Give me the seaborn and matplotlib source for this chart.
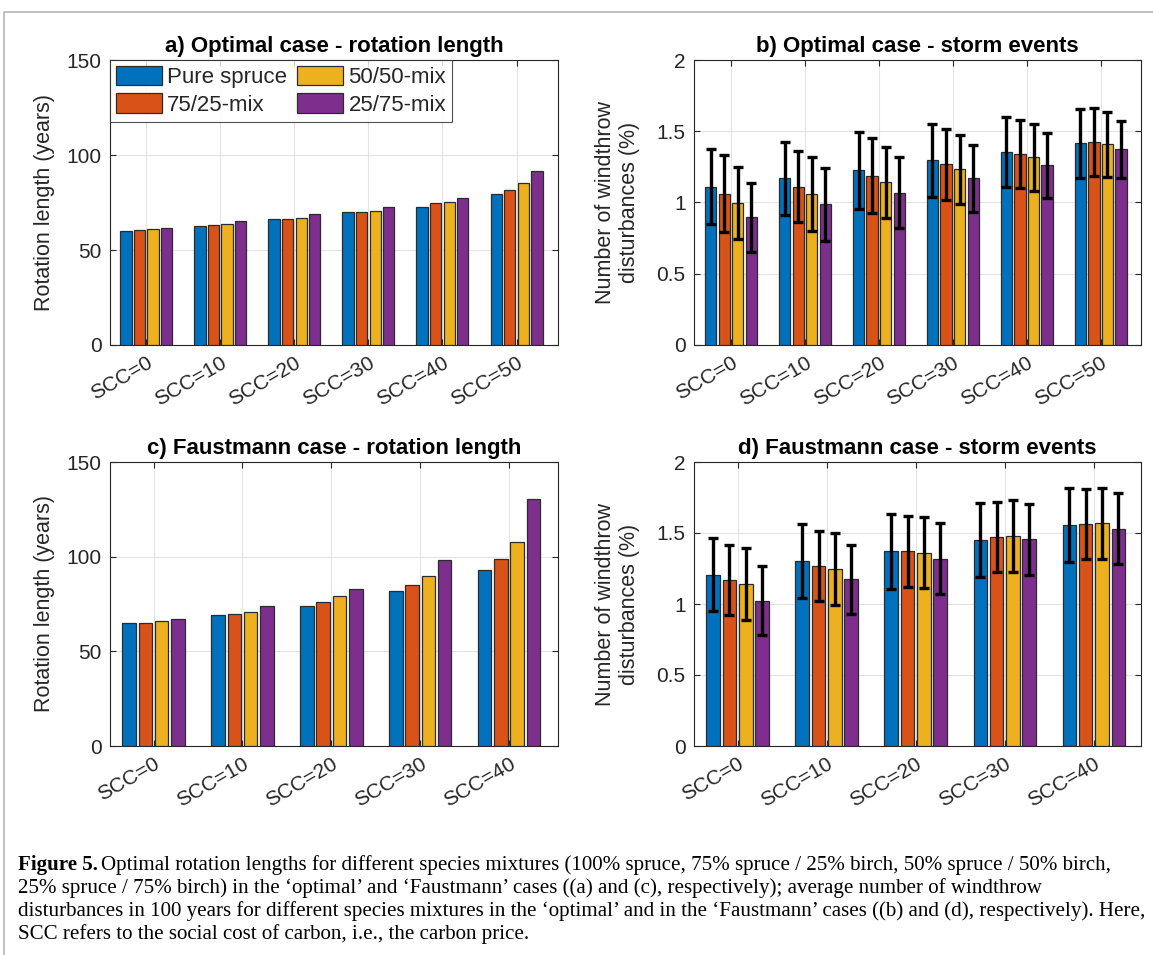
import numpy as np
import pandas as pd
import matplotlib
matplotlib.use("Agg")
import matplotlib.pyplot as plt
from matplotlib.lines import Line2D
import seaborn as sns

# ---- data -------------------------------------------------------------
mixtures = ["Pure spruce", "75/25-mix", "50/50-mix", "25/75-mix"]
colors = ["#0072BD", "#D95319", "#EDB120", "#7E2F8E"]

scc_opt = ["SCC=0", "SCC=10", "SCC=20", "SCC=30", "SCC=40", "SCC=50"]
scc_faust = ["SCC=0", "SCC=10", "SCC=20", "SCC=30", "SCC=40"]

# a) optimal case, rotation length (years)
rot_opt_pure = [59.8, 62.6, 66.1, 69.8, 72.8, 79.4]
rot_opt_7525 = [60.3, 63.1, 66.5, 69.8, 74.6, 81.5]
rot_opt_5050 = [61.2, 63.7, 66.8, 70.7, 75.0, 85.2]
rot_opt_2575 = [61.7, 65.4, 68.8, 72.8, 77.4, 91.5]

# b) optimal case, windthrow disturbances (%), mean and error half-width
dist_opt_pure = [1.110, 1.170, 1.225, 1.295, 1.357, 1.415]
dist_opt_7525 = [1.063, 1.110, 1.188, 1.268, 1.340, 1.423]
dist_opt_5050 = [0.996, 1.062, 1.142, 1.232, 1.318, 1.408]
dist_opt_2575 = [0.895, 0.986, 1.070, 1.169, 1.261, 1.375]
err_opt_pure = [0.264, 0.257, 0.268, 0.258, 0.245, 0.242]
err_opt_7525 = [0.268, 0.249, 0.262, 0.247, 0.240, 0.239]
err_opt_5050 = [0.252, 0.259, 0.250, 0.245, 0.236, 0.228]
err_opt_2575 = [0.244, 0.255, 0.248, 0.238, 0.227, 0.200]

# c) Faustmann case, rotation length (years)
rot_fau_pure = [65.0, 69.2, 74.2, 81.9, 93.0]
rot_fau_7525 = [65.0, 69.9, 76.1, 85.1, 99.0]
rot_fau_5050 = [66.0, 71.0, 79.1, 90.0, 108.0]
rot_fau_2575 = [67.1, 74.2, 83.0, 98.3, 130.5]

# d) Faustmann case, windthrow disturbances (%)
dist_fau_pure = [1.206, 1.303, 1.371, 1.451, 1.556]
dist_fau_7525 = [1.169, 1.268, 1.373, 1.472, 1.563]
dist_fau_5050 = [1.141, 1.246, 1.361, 1.479, 1.568]
dist_fau_2575 = [1.023, 1.173, 1.317, 1.455, 1.530]
err_fau_pure = [0.258, 0.263, 0.263, 0.262, 0.260]
err_fau_7525 = [0.249, 0.248, 0.250, 0.248, 0.247]
err_fau_5050 = [0.255, 0.252, 0.250, 0.255, 0.250]
err_fau_2575 = [0.244, 0.244, 0.250, 0.249, 0.250]

titles = ["a) Optimal case - rotation length", "b) Optimal case - storm events",
          "c) Faustmann case - rotation length", "d) Faustmann case - storm events"]

caption_lines = [
    "Optimal rotation lengths for different species mixtures (100% spruce, 75% spruce / 25% birch, 50% spruce / 50% birch,",
    "25% spruce / 75% birch) in the \u2018optimal\u2019 and \u2018Faustmann\u2019 cases ((a) and (c), respectively); average number of windthrow",
    "disturbances in 100 years for different species mixtures in the \u2018optimal\u2019 and in the \u2018Faustmann\u2019 cases ((b) and (d), respectively). Here,",
    "SCC refers to the social cost of carbon, i.e., the carbon price.",
]

# ---- style ------------------------------------------------------------
sns.set_style("ticks")
plt.rcParams["font.family"] = ["Liberation Sans", "DejaVu Sans"]
INK = "#262626"
plt.rcParams.update({
    "axes.edgecolor": INK,
    "axes.linewidth": 0.8,
    "text.color": INK,
    "axes.labelcolor": INK,
    "xtick.color": INK,
    "ytick.color": INK,
})


def long_form(cats, series):
    rows = []
    for name, vals in zip(mixtures, series):
        for c, v in zip(cats, vals):
            rows.append({"SCC": c, "Mixture": name, "value": v})
    return pd.DataFrame(rows)


def draw_panel(ax, cats, series, errs, ylim, yticks, yticklabels, xlim, title,
               ylabel, labelpad):
    df = long_form(cats, series)
    sns.barplot(data=df, x="SCC", y="value", hue="Mixture", hue_order=mixtures,
                order=cats, palette=colors, saturation=1, width=0.733, gap=0.17,
                errorbar=None, edgecolor="#2b2b2b", linewidth=0.9, legend=False,
                ax=ax, zorder=3)
    if errs is not None:
        for cont, means, e in zip(ax.containers, series, errs):
            xs = [p.get_x() + p.get_width() / 2 for p in cont]
            ax.errorbar(xs, means, yerr=e, fmt="none", ecolor="black",
                        elinewidth=2.4, capsize=3.9, capthick=2.4, zorder=4)
    ax.set_ylim(*ylim)
    ax.set_yticks(yticks)
    ax.set_yticklabels(yticklabels)
    ax.set_xlim(*xlim)
    ax.grid(True, color="#e3e3e3", linewidth=0.8, zorder=0)
    ax.set_axisbelow(True)
    for s in ax.spines.values():
        s.set_visible(True)
        s.set_color(INK)
        s.set_linewidth(0.8)
    ax.tick_params(direction="in", top=True, right=True, length=4, width=0.8,
                   labelsize=15, pad=6)
    ax.set_xticks(range(len(cats)))
    ax.set_xticklabels(cats, rotation=30, ha="right", rotation_mode="anchor")
    ax.set_xlabel("")
    ax.set_ylabel(ylabel, fontsize=15.5, labelpad=labelpad)
    ax.set_title(title, fontsize=16, fontweight="bold", color="black", pad=6)


fig = plt.figure(figsize=(11.53, 9.55), dpi=100)
W, H = 1153.0, 955.0
ax_a = fig.add_axes([110 / W, 1 - 345 / H, 448 / W, 285 / H])
ax_b = fig.add_axes([694 / W, 1 - 345 / H, 447 / W, 285 / H])
ax_c = fig.add_axes([110 / W, 1 - 746 / H, 448 / W, 284 / H])
ax_d = fig.add_axes([694 / W, 1 - 746 / H, 447 / W, 284 / H])

rot_ticks = [0, 50, 100, 150]
rot_labels = ["0", "50", "100", "150"]
dist_ticks = [0, 0.5, 1, 1.5, 2]
dist_labels = ["0", "0.5", "1", "1.5", "2"]

draw_panel(ax_a, scc_opt, [rot_opt_pure, rot_opt_7525, rot_opt_5050, rot_opt_2575], None,
           (0, 150), rot_ticks, rot_labels, (-0.49, 5.56), titles[0],
           "Rotation length (years)", 8)
draw_panel(ax_b, scc_opt, [dist_opt_pure, dist_opt_7525, dist_opt_5050, dist_opt_2575],
           [err_opt_pure, err_opt_7525, err_opt_5050, err_opt_2575],
           (0, 2), dist_ticks, dist_labels, (-0.50, 5.545), titles[1],
           "Number of windthrow\ndisturbances (%)", 12)
draw_panel(ax_c, scc_faust, [rot_fau_pure, rot_fau_7525, rot_fau_5050, rot_fau_2575], None,
           (0, 150), rot_ticks, rot_labels, (-0.49, 4.55), titles[2],
           "Rotation length (years)", 8)
draw_panel(ax_d, scc_faust, [dist_fau_pure, dist_fau_7525, dist_fau_5050, dist_fau_2575],
           [err_fau_pure, err_fau_7525, err_fau_5050, err_fau_2575],
           (0, 2), dist_ticks, dist_labels, (-0.49, 4.53), titles[3],
           "Number of windthrow\ndisturbances (%)", 12)

# legend built from the bars of panel a
handles = [cont.patches[0] for cont in ax_a.containers]
leg = ax_a.legend(handles, mixtures, ncol=2, loc="upper left", bbox_to_anchor=(0, 1),
                  borderaxespad=0, frameon=True, fancybox=False, fontsize=16,
                  handlelength=2.05, handleheight=0.95, columnspacing=0.45,
                  handletextpad=0.25, borderpad=0.28, labelspacing=0.22)
leg.get_frame().set_edgecolor(INK)
leg.get_frame().set_linewidth(0.8)
leg.set_zorder(10)

# page frame
fig.add_artist(Line2D([4 / W, 4 / W, 1.0], [0.0, 1 - 12 / H, 1 - 12 / H],
                      transform=fig.transFigure, color="#b5b5b5", lw=1.2))

# caption
serif = ["Liberation Serif", "DejaVu Serif"]
cap_size = 15.1
line_y = [865, 888, 911, 934]
head = fig.text(18 / W, 1 - line_y[0] / H, "Figure 5.", fontsize=cap_size,
                fontweight="bold", family=serif, color="black", va="center")
fig.canvas.draw()
bb = head.get_window_extent(renderer=fig.canvas.get_renderer())
fig.text((bb.x1 + 3) / W, 1 - line_y[0] / H, caption_lines[0], fontsize=cap_size,
         family=serif, color="black", va="center")
for y, line in zip(line_y[1:], caption_lines[1:]):
    fig.text(18 / W, 1 - y / H, line, fontsize=cap_size, family=serif,
             color="black", va="center")

fig.savefig("out.png", dpi=100)
